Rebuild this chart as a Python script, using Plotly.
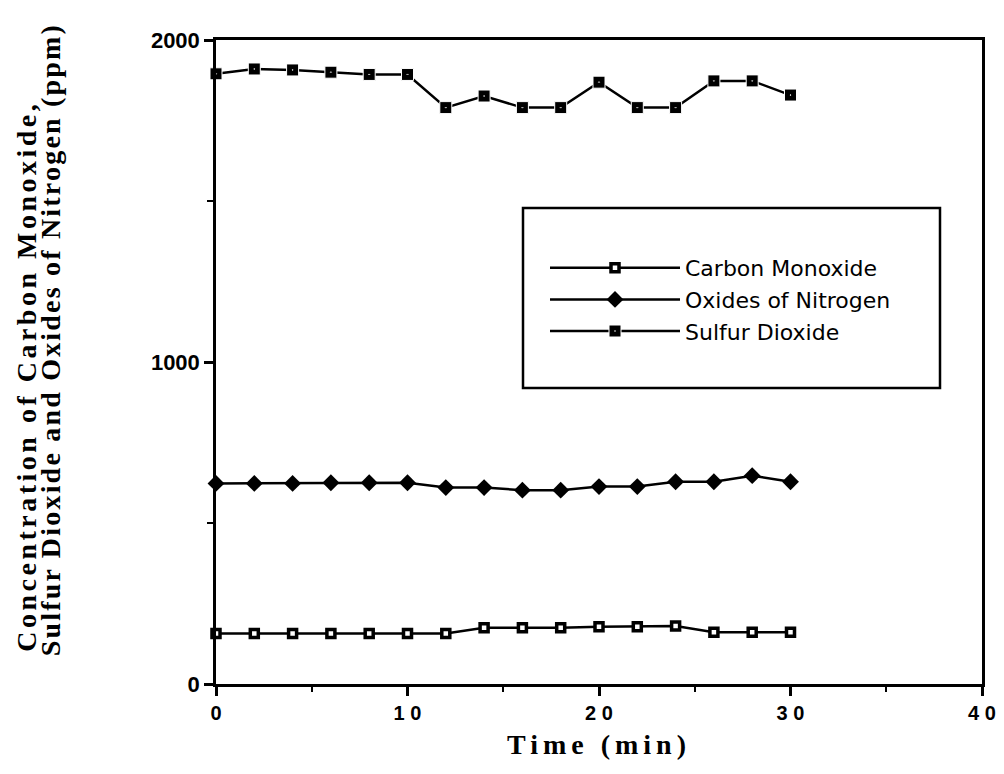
import plotly.graph_objects as go

time_min = [0, 2, 4, 6, 8, 10, 12, 14, 16, 18, 20, 22, 24, 26, 28, 30]
carbon_monoxide = [157, 157, 157, 157, 157, 157, 157, 175, 175, 175, 178, 178, 180, 161, 161, 161]
oxides_of_nitrogen = [623, 623, 623, 625, 625, 625, 610, 610, 602, 602, 613, 613, 628, 628, 647, 628]
sulfur_dioxide = [1895, 1910, 1907, 1900, 1893, 1893, 1790, 1826, 1790, 1790, 1869, 1790, 1790, 1873, 1873, 1829]

x_tickvals = [0, 10, 20, 30, 40]
x_ticktext = ["0", "1 0", "2 0", "3 0", "4 0"]
y_tickvals = [0, 1000, 2000]
y_ticktext = ["0", "1000", "2000"]
y_title_lines = ["Concentration of Carbon Monoxide,", "Sulfur Dioxide and Oxides of Nitrogen (ppm)"]

L, R, T, B = 216, 22, 40, 90
PW, PH = 1004 - L - R, 774 - T - B


def px_x(p):
    return (p - L) / PW


def px_y(p):
    return (774 - B - p) / PH


fig = go.Figure()
fig.add_trace(go.Scatter(
    x=time_min, y=carbon_monoxide, name="Carbon Monoxide", mode="lines+markers",
    line=dict(color="black", width=2.5), cliponaxis=False,
    marker=dict(symbol="square", size=8, color="white", line=dict(color="black", width=3.5))))
fig.add_trace(go.Scatter(
    x=time_min, y=oxides_of_nitrogen, name="Oxides of Nitrogen", mode="lines+markers",
    line=dict(color="black", width=2.5), cliponaxis=False,
    marker=dict(symbol="diamond", size=13, color="black", line=dict(color="black", width=0))))
fig.add_trace(go.Scatter(
    x=time_min, y=sulfur_dioxide, name="Sulfur Dioxide", mode="lines+markers",
    line=dict(color="black", width=2.5), cliponaxis=False,
    marker=dict(symbol="square-dot", size=12, color="black", line=dict(color="white", width=1))))

# legend frame
fig.add_shape(type="rect", xref="paper", yref="paper",
              x0=px_x(523), x1=px_x(940), y0=px_y(388), y1=px_y(208),
              line=dict(color="black", width=2.5), fillcolor="rgba(0,0,0,0)")

# y-axis title, two lines placed individually
title_font = dict(family="Liberation Serif", size=28, color="black", weight="bold")
fig.add_annotation(text=y_title_lines[0], textangle=-90, xref="paper", yref="paper",
                   x=px_x(26), y=px_y(376), xanchor="center", yanchor="middle",
                   showarrow=False, font=title_font)
fig.add_annotation(text=y_title_lines[1], textangle=-90, xref="paper", yref="paper",
                   x=px_x(50), y=px_y(340), xanchor="center", yanchor="middle",
                   showarrow=False, font=title_font)

fig.update_layout(
    width=1004, height=774,
    margin=dict(l=L, r=R, t=T, b=B, autoexpand=False),
    plot_bgcolor="white", paper_bgcolor="white",
    legend=dict(x=px_x(545), y=px_y(247), xanchor="left", yanchor="top",
                bgcolor="rgba(0,0,0,0)", borderwidth=0, itemwidth=130,
                font=dict(family="DejaVu Sans", size=22, color="black"),
                tracegroupgap=0),
    xaxis=dict(range=[0, 40], tickvals=x_tickvals, ticktext=x_ticktext,
               showgrid=False, zeroline=False, showline=True, mirror=True,
               linecolor="black", linewidth=2.5, ticks="outside", ticklen=9, tickwidth=2.5,
               tickcolor="black",
               minor=dict(tickvals=[5, 15, 25, 35], ticks="outside", ticklen=5, tickwidth=2, tickcolor="black"),
               tickfont=dict(family="Liberation Sans", size=20, color="black", weight="bold"),
               title=dict(text="Time (min)", standoff=12, font=title_font)),
    yaxis=dict(range=[0, 2000], tickvals=y_tickvals, ticktext=y_ticktext,
               showgrid=False, zeroline=False, showline=True, mirror=True,
               linecolor="black", linewidth=2.5, ticks="outside", ticklen=9, tickwidth=2.5,
               tickcolor="black",
               minor=dict(tickvals=[500, 1500], ticks="outside", ticklen=6, tickwidth=2, tickcolor="black"),
               tickfont=dict(family="Liberation Sans", size=22, color="black", weight="bold")),
)

post_js = """
var gd = document.getElementById('{plot_id}');
function spaceTitles() {
  gd.querySelectorAll('.g-xtitle text').forEach(function(t){ t.style.letterSpacing = '5px'; });
  var spacings = ['3.5px', '2.2px'];
  gd.querySelectorAll('.annotation-text').forEach(function(t, i){ t.style.letterSpacing = spacings[i] || '2px'; });
}
spaceTitles();
gd.on('plotly_afterplot', spaceTitles);
"""

fig.write_html("out.html", post_script=post_js)
